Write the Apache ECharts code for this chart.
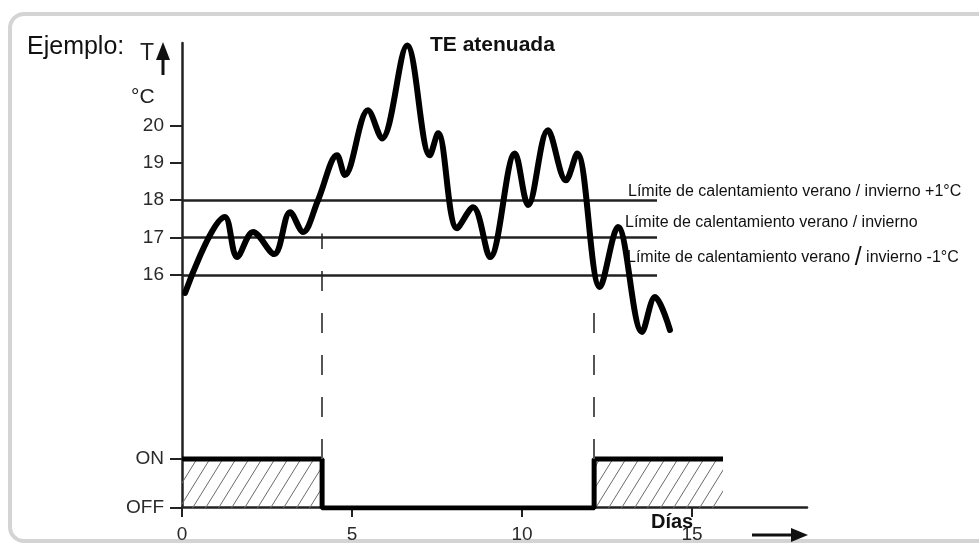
<!DOCTYPE html>
<html>
<head>
<meta charset="utf-8">
<script src="https://cdn.jsdelivr.net/npm/echarts@6/dist/echarts.min.js"></script>
<style>html,body{margin:0;padding:0;background:#fff}#c{width:979px;height:544px}</style>
</head>
<body>
<div id="c"></div>
<script>
// ---- data ----
const dayX = [0.09, 1.26, 1.62, 2.09, 2.71, 3.18, 3.56, 4.0, 4.56, 4.79, 5.47, 5.88, 6.62, 7.29, 7.53, 8.09, 8.56, 9.06, 9.79, 10.18, 10.76, 11.29, 11.62, 12.29, 12.82, 13.53, 13.91, 14.35];
const tempC = [15.52, 17.55, 16.48, 17.15, 16.56, 17.68, 17.15, 18.0, 19.2, 18.67, 20.4, 19.65, 22.13, 19.2, 19.79, 17.25, 17.81, 16.48, 19.25, 17.87, 19.87, 18.53, 19.25, 15.68, 17.28, 14.48, 15.41, 14.53];
const limitTemps = [18, 17, 16];
const limitEndDay = 13.97;
const limitLabels = [
  'Límite de calentamiento verano / invierno +1°C',
  'Límite de calentamiento verano / invierno',
  '{a|Límite de calentamiento verano }{b|/}{a| invierno -1°C}'
];
const switchDays = [0, 4.12, 12.12, 15.91];
const switchState = [1, 0, 1, 1];
const guideDays = [4.12, 12.12];
const guideTop = [5.6, 4.2];
const xTicks = [0, 5, 10, 15];
const tempTicks = [16, 17, 18, 19, 20];
const stateTicks = [0, 1];
const stateNames = ['OFF', 'ON'];

// hatch pattern
const pc = document.createElement('canvas');
pc.width = 13; pc.height = 21;
const g = pc.getContext('2d');
g.strokeStyle = '#6a6a6a'; g.lineWidth = 1;
[[-13,21,0,0],[0,21,13,0],[13,21,26,0]].forEach(l => { g.beginPath(); g.moveTo(l[0], l[1]); g.lineTo(l[2], l[3]); g.stroke(); });

const FONT = '"Liberation Sans", Arial, sans-serif';
const chart = echarts.init(document.getElementById('c'));
const gridBox = { left: 182, top: 43, width: 625, height: 465 };

chart.setOption({
  backgroundColor: '#fff',
  animation: false,
  textStyle: { fontFamily: FONT },
  grid: [Object.assign({}, gridBox), Object.assign({}, gridBox)],
  xAxis: [
    { gridIndex: 0, type: 'value', min: 0, max: 18.38,
      axisLine: { show: true, lineStyle: { color: '#222', width: 2.5 } },
      axisTick: { show: true, customValues: xTicks, length: 10, lineStyle: { color: '#222', width: 2 } },
      axisLabel: { customValues: xTicks, fontSize: 19, color: '#2a2a2a', margin: 18, fontFamily: FONT },
      splitLine: { show: false } },
    { gridIndex: 1, type: 'value', min: 0, max: 18.38, show: false }
  ],
  yAxis: [
    { gridIndex: 0, type: 'value', min: 9.8, max: 22.2,
      axisLine: { show: true, lineStyle: { color: '#222', width: 2.5 } },
      axisTick: { show: true, customValues: tempTicks, length: 12, lineStyle: { color: '#222', width: 2 } },
      axisLabel: { customValues: tempTicks, fontSize: 19, color: '#2a2a2a', margin: 18, fontFamily: FONT },
      splitLine: { show: false } },
    { gridIndex: 1, type: 'value', min: 0, max: 9.49,
      axisLine: { show: false },
      axisTick: { show: true, customValues: stateTicks, length: 12, lineStyle: { color: '#222', width: 2 } },
      axisLabel: { customValues: stateTicks, fontSize: 19, color: '#2a2a2a', margin: 18, fontFamily: FONT,
        formatter: v => stateNames[Math.round(v)] },
      splitLine: { show: false } }
  ],
  graphic: [
    { type: 'rect', z: -10, shape: { x: 10, y: 14, width: 1000, height: 527, r: 14 },
      style: { fill: 'none', stroke: '#d4d4d4', lineWidth: 4 } },
    { type: 'text', x: 27, y: 47, style: { text: 'Ejemplo:', font: '25px ' + FONT, fill: '#111', verticalAlign: 'middle' } },
    { type: 'text', x: 147, y: 54, style: { text: 'T', font: '23px ' + FONT, fill: '#222', align: 'center', verticalAlign: 'middle' } },
    { type: 'polygon', shape: { points: [[163, 42], [156, 60], [170, 60]] }, style: { fill: '#111' } },
    { type: 'rect', shape: { x: 161.5, y: 56, width: 3, height: 19 }, style: { fill: '#111' } },
    { type: 'text', x: 131, y: 97, style: { text: '°C', font: '21px ' + FONT, fill: '#222', verticalAlign: 'middle' } },
    { type: 'text', x: 430, y: 45, style: { text: 'TE atenuada', font: 'bold 21px ' + FONT, fill: '#111', verticalAlign: 'middle' } },
    { type: 'text', x: 651, y: 522, z: 10, style: { text: 'Días', font: 'bold 20px ' + FONT, fill: '#111', verticalAlign: 'middle' } },
    { type: 'rect', shape: { x: 752, y: 533.5, width: 42, height: 3 }, style: { fill: '#111' } },
    { type: 'polygon', shape: { points: [[808, 535], [791, 528], [791, 542]] }, style: { fill: '#111' } },
    { type: 'text', x: 628, y: 192, style: { text: limitLabels[0], font: '16px ' + FONT, fill: '#111', verticalAlign: 'middle' } },
    { type: 'text', x: 625, y: 223, style: { text: limitLabels[1], font: '16px ' + FONT, fill: '#111', verticalAlign: 'middle' } },
    { type: 'text', x: 627, y: 258, style: { text: limitLabels[2], fill: '#111', verticalAlign: 'middle',
      rich: { a: { fontSize: 16, fontFamily: FONT, fill: '#111' }, b: { fontSize: 25, fontFamily: FONT, fill: '#111' } } } }
  ],
  series: [
    { type: 'line', xAxisIndex: 1, yAxisIndex: 1, z: 3, silent: true,
      data: [], symbol: 'none',
      markLine: { silent: true, symbol: 'none', label: { show: false },
        lineStyle: { color: '#555', width: 2, type: [20, 22] },
        data: guideDays.map((d, i) => [{ coord: [d, 1] }, { coord: [d, guideTop[i]] }]) } },
    { type: 'line', xAxisIndex: 1, yAxisIndex: 1, z: 4, step: 'end', symbol: 'none',
      data: switchDays.map((d, i) => [d, switchState[i]]),
      lineStyle: { color: '#000', width: 5 },
      areaStyle: { color: { image: pc, repeat: 'repeat' }, opacity: 1 } },
    { type: 'line', xAxisIndex: 0, yAxisIndex: 0, z: 6, smooth: 0.35, symbol: 'none',
      data: dayX.map((d, i) => [d, tempC[i]]),
      lineStyle: { color: '#000', width: 6, join: 'round', cap: 'round' },
      markLine: { silent: true, symbol: 'none', label: { show: false },
        lineStyle: { color: '#222', width: 2.5, type: 'solid' },
        data: limitTemps.map(t => [{ coord: [0, t] }, { coord: [limitEndDay, t] }]) } }
  ]
});
</script>
</body>
</html>
